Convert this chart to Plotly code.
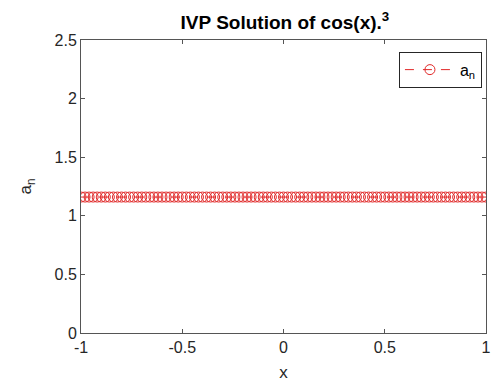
import plotly.graph_objects as go

x_vals = [-1.0, -0.98, -0.96, -0.94, -0.92, -0.9, -0.88, -0.86, -0.84, -0.82,
          -0.8, -0.78, -0.76, -0.74, -0.72, -0.7, -0.68, -0.66, -0.64, -0.62,
          -0.6, -0.58, -0.56, -0.54, -0.52, -0.5, -0.48, -0.46, -0.44, -0.42,
          -0.4, -0.38, -0.36, -0.34, -0.32, -0.3, -0.28, -0.26, -0.24, -0.22,
          -0.2, -0.18, -0.16, -0.14, -0.12, -0.1, -0.08, -0.06, -0.04, -0.02,
          0.0, 0.02, 0.04, 0.06, 0.08, 0.1, 0.12, 0.14, 0.16, 0.18,
          0.2, 0.22, 0.24, 0.26, 0.28, 0.3, 0.32, 0.34, 0.36, 0.38,
          0.4, 0.42, 0.44, 0.46, 0.48, 0.5, 0.52, 0.54, 0.56, 0.58,
          0.6, 0.62, 0.64, 0.66, 0.68, 0.7, 0.72, 0.74, 0.76, 0.78,
          0.8, 0.82, 0.84, 0.86, 0.88, 0.9, 0.92, 0.94, 0.96, 0.98, 1.0]
a_n = [1.16] * 101

x_ticks = [-1, -0.5, 0, 0.5, 1]
x_tick_labels = ["-1", "-0.5", "0", "0.5", "1"]
y_ticks = [0, 0.5, 1, 1.5, 2, 2.5]
y_tick_labels = ["0", "0.5", "1", "1.5", "2", "2.5"]

RED = "rgb(225,40,40)"
AX = "#262626"
FONT = "Liberation Sans, Arial, sans-serif"

fig = go.Figure()
fig.add_trace(go.Scatter(
    x=x_vals, y=a_n, mode="lines+markers", name="a<sub>n</sub>",
    line=dict(color=RED, width=1, dash="dash"),
    marker=dict(symbol="circle-open", size=10, color=RED, line=dict(width=1, color=RED)),
))

axis_common = dict(
    showline=True, linecolor="#555555", linewidth=1, mirror="ticks",
    ticks="inside", ticklen=4, tickcolor="#555555", showgrid=False, zeroline=False,
    tickfont=dict(family=FONT, size=16, color=AX),
)

# The page body adds an 8px offset, so the figure is sized to fit the 499x388 window.
fig.update_layout(
    width=491, height=380,
    margin=dict(l=73, r=8, t=32, b=55),
    paper_bgcolor="white", plot_bgcolor="white",
    title=dict(text="<b>IVP Solution of cos(x).<sup>3</sup></b>", x=0.564, xanchor="center",
               y=0.962, yanchor="middle",
               font=dict(family=FONT, size=19, color="black")),
    xaxis=dict(range=[-1, 1], tickvals=x_ticks, ticktext=x_tick_labels,
               ticklabeloverflow="allow",
               title=dict(text="x", font=dict(family=FONT, size=17, color=AX), standoff=10),
               **axis_common),
    yaxis=dict(range=[0, 2.5], tickvals=y_ticks, ticktext=y_tick_labels,
               title=dict(text="a<sub>n</sub>", font=dict(family=FONT, size=17, color=AX), standoff=18),
               **axis_common),
    showlegend=True,
    legend=dict(x=0.99, y=0.96, xanchor="right", yanchor="top",
                bgcolor="white", bordercolor=AX, borderwidth=1,
                font=dict(family=FONT, size=16, color="black"),
                itemwidth=50),
)

fig.write_html("out.html")
